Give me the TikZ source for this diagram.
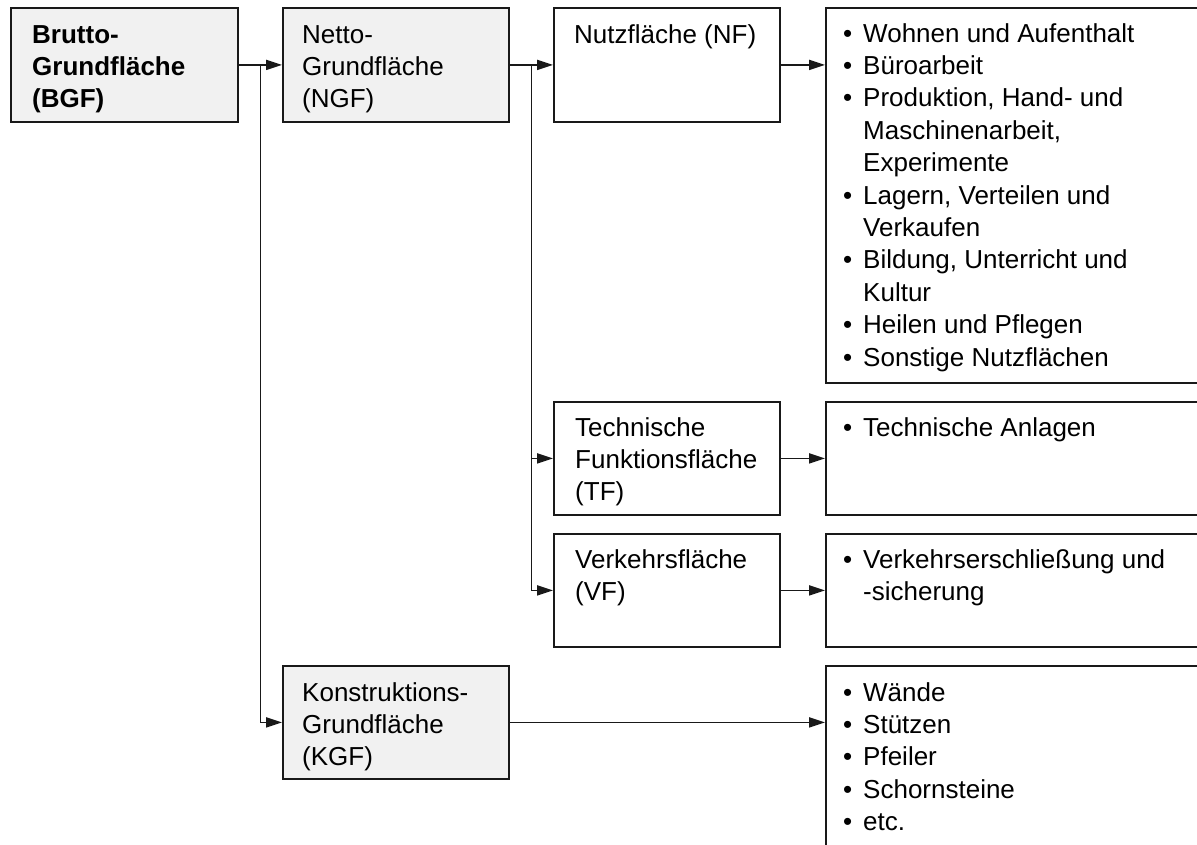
\documentclass[tikz,border=0pt]{standalone}
\usepackage{fontspec}
\setmainfont{Liberation Sans}
\usetikzlibrary{arrows.meta,calc}
\definecolor{boxgray}{RGB}{241,241,241}
\definecolor{linegray}{RGB}{25,25,25}
\newcommand{\bodyfont}{\fontsize{26}{32.4}\selectfont}
\newcommand{\itm}[1]{\par\hangindent=20pt\hangafter=1\noindent\makebox[20pt][l]{•}#1}
\newcommand{\blk}[2]{\parbox[t]{#1}{\bodyfont\raggedright #2}}
\tikzset{
  box/.style={draw=linegray, line width=1.8pt, fill=white, rectangle, inner sep=0pt, anchor=north west},
  graybox/.style={box, fill=boxgray},
  label/.style={anchor=base west, inner sep=0pt, text=black},
  conn/.style={draw=linegray, line width=1.8pt},
  arr/.style={conn, -{Triangle[length=16pt,width=10pt]}}
}
\begin{document}
\begin{tikzpicture}[x=1pt,y=-1pt]
\useasboundingbox (0,0) rectangle (1197,844);
\clip (0,0) rectangle (1197,844);

% boxes
\node[graybox, minimum width=227pt, minimum height=114pt] (bgf) at (10,7) {};
\node[graybox, minimum width=226pt, minimum height=114pt] (ngf) at (282,7) {};
\node[box, minimum width=226pt, minimum height=114pt] (nf) at (553,7) {};
\node[box, minimum width=400pt, minimum height=375pt] (l1) at (825,7) {};
\node[box, minimum width=226pt, minimum height=113pt] (tf) at (553,401) {};
\node[box, minimum width=400pt, minimum height=113pt] (l2) at (825,401) {};
\node[box, minimum width=226pt, minimum height=113pt] (vf) at (553,533) {};
\node[box, minimum width=400pt, minimum height=113pt] (l3) at (825,533) {};
\node[graybox, minimum width=226pt, minimum height=113pt] (kgf) at (282,665) {};
\node[box, minimum width=400pt, minimum height=250pt] (l4) at (825,665) {};

% texts
\node[label] (bgf-t) at (32,43) {\blk{200pt}{\bfseries Brutto-\\Grundfläche\\(BGF)}};
\node[label] (ngf-t) at (302,43) {\blk{200pt}{Netto-\\Grundfläche\\(NGF)}};
\node[label] (nf-t) at (574,43) {\blk{200pt}{Nutzfläche (NF)}};
\node[label] (l1-t) at (843,42) {\blk{360pt}{%
  \itm{Wohnen und Aufenthalt}
  \itm{Büroarbeit}
  \itm{Produktion, Hand- und\newline Maschinenarbeit,\newline Experimente}
  \itm{Lagern, Verteilen und\newline Verkaufen}
  \itm{Bildung, Unterricht und\newline Kultur}
  \itm{Heilen und Pflegen}
  \itm{Sonstige Nutzflächen}}};
\node[label] (tf-t) at (575,436) {\blk{200pt}{Technische\\Funktionsfläche\\(TF)}};
\node[label] (l2-t) at (843,436) {\blk{360pt}{\itm{Technische Anlagen}}};
\node[label] (vf-t) at (575,568) {\blk{200pt}{Verkehrsfläche\\(VF)}};
\node[label] (l3-t) at (843,568) {\blk{360pt}{\itm{Verkehrserschließung und\newline -sicherung}}};
\node[label] (kgf-t) at (302,701) {\blk{200pt}{Konstruktions-\\Grundfläche\\(KGF)}};
\node[label] (l4-t) at (843,701) {\blk{360pt}{%
  \itm{Wände}
  \itm{Stützen}
  \itm{Pfeiler}
  \itm{Schornsteine}
  \itm{etc.}}};

% connectors
\coordinate (j1) at ($(bgf.east)!0.5!(ngf.west)$);
\coordinate (j2) at ($(ngf.east)!0.5!(nf.west)$);
\draw[arr] (bgf.east) -- (ngf.west);
\draw[arr] (j1) |- (kgf.west);
\draw[arr] (ngf.east) -- (nf.west);
\draw[arr] (j2) |- (tf.west);
\draw[arr] (j2) |- (vf.west);
\draw[arr] (nf.east) -- (nf.east -| l1.west);
\draw[arr] (tf.east) -- (l2.west);
\draw[arr] (vf.east) -- (l3.west);
\draw[arr] (kgf.east) -- (kgf.east -| l4.west);
\end{tikzpicture}
\end{document}
